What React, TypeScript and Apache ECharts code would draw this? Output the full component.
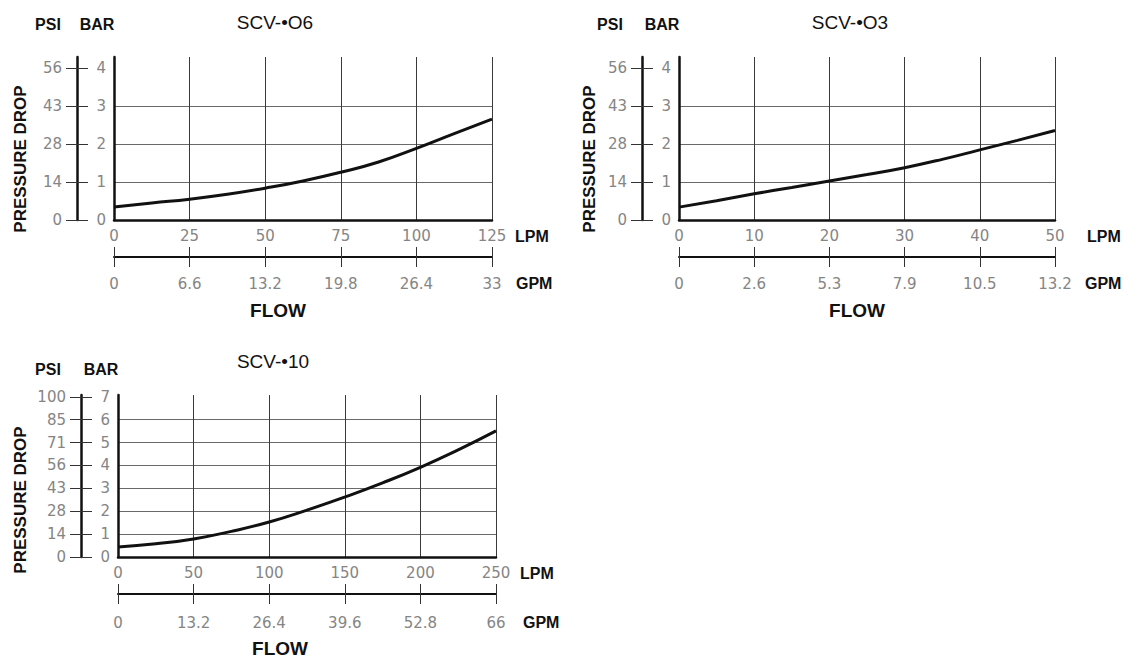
import React, { useEffect, useRef } from 'react';
import * as echarts from 'echarts';

// ---- Data ----
const chart1Title = 'SCV-•O6';
const chart1Lpm = [0, 12.5, 25, 37.5, 50, 62.5, 75, 87.5, 100, 112.5, 125];
const chart1Bar = [0.34, 0.45, 0.55, 0.68, 0.84, 1.03, 1.26, 1.53, 1.89, 2.28, 2.66];
const chart1LpmTicks = [0, 25, 50, 75, 100, 125];
const chart1GpmTicks = ['0', '6.6', '13.2', '19.8', '26.4', '33'];
const chart1BarTicks = [0, 1, 2, 3, 4];
const chart1PsiTicks = ['0', '14', '28', '43', '56'];

const chart2Title = 'SCV-•O3';
const chart2Lpm = [0, 5, 10, 15, 20, 25, 30, 35, 40, 45, 50];
const chart2Bar = [0.34, 0.51, 0.69, 0.86, 1.03, 1.2, 1.38, 1.6, 1.85, 2.1, 2.36];
const chart2LpmTicks = [0, 10, 20, 30, 40, 50];
const chart2GpmTicks = ['0', '2.6', '5.3', '7.9', '10.5', '13.2'];
const chart2BarTicks = [0, 1, 2, 3, 4];
const chart2PsiTicks = ['0', '14', '28', '43', '56'];

const chart3Title = 'SCV-•10';
const chart3Lpm = [0, 25, 50, 75, 100, 125, 150, 175, 200, 225, 250];
const chart3Bar = [0.44, 0.58, 0.79, 1.12, 1.53, 2.05, 2.62, 3.24, 3.92, 4.68, 5.51];
const chart3LpmTicks = [0, 50, 100, 150, 200, 250];
const chart3GpmTicks = ['0', '13.2', '26.4', '39.6', '52.8', '66'];
const chart3BarTicks = [0, 1, 2, 3, 4, 5, 6, 7];
const chart3PsiTicks = ['0', '14', '28', '43', '56', '71', '85', '100'];

const charts = [
  { title: chart1Title, lpm: chart1Lpm, bar: chart1Bar, lpmTicks: chart1LpmTicks, gpmTicks: chart1GpmTicks, barTicks: chart1BarTicks, psiTicks: chart1PsiTicks },
  { title: chart2Title, lpm: chart2Lpm, bar: chart2Bar, lpmTicks: chart2LpmTicks, gpmTicks: chart2GpmTicks, barTicks: chart2BarTicks, psiTicks: chart2PsiTicks },
  { title: chart3Title, lpm: chart3Lpm, bar: chart3Bar, lpmTicks: chart3LpmTicks, gpmTicks: chart3GpmTicks, barTicks: chart3BarTicks, psiTicks: chart3PsiTicks },
];

// ---- Layout ----
const layouts = [
  { left: 114, top: 57, right: 492, bottom: 220, yMax: 4.3, lpmGap: 23, gpmGap: 24, gpmMargin: 19, title: [275, 22], psi: [48, 24], barT: [97, 24], drop: [20, 159], flow: [278, 310] },
  { left: 679, top: 57, right: 1055, bottom: 220, yMax: 4.3, lpmGap: 32, gpmGap: 30, gpmMargin: 19, title: [850, 22], psi: [610, 24], barT: [662, 24], drop: [589, 159], flow: [857, 310] },
  { left: 118, top: 395, right: 496, bottom: 557, yMax: 7.08, lpmGap: 24, gpmGap: 27, gpmMargin: 21, title: [273, 361], psi: [48, 369], barT: [101, 369], drop: [20, 500], flow: [280, 648] },
];

const NUM_FONT = 'DejaVu Sans';
const TXT_FONT = 'Liberation Sans';
const NUM_COLOR = '#858585';

function buildOption() {
  const grid: any[] = [];
  const xAxis: any[] = [];
  const yAxis: any[] = [];
  const series: any[] = [];
  const graphic: any[] = [];

  charts.forEach((c, i) => {
    const L = layouts[i];
    grid.push({ left: L.left, top: L.top, width: L.right - L.left, height: L.bottom - L.top, outerBoundsMode: 'none', containLabel: false });
    const lpmMax = c.lpmTicks[c.lpmTicks.length - 1];
    const lpmStep = c.lpmTicks[1] - c.lpmTicks[0];
    const nameStyle = (pad: number) => ({ fontFamily: TXT_FONT, fontWeight: 'bold', fontSize: 16, color: '#111', verticalAlign: 'top', padding: [pad, 0, 0, 0] });

    // LPM axis
    xAxis.push({
      type: 'value', gridIndex: i, min: 0, max: lpmMax, interval: lpmStep, position: 'bottom',
      axisLine: { show: true, onZero: false, lineStyle: { color: '#111', width: 2.5 } },
      axisTick: { show: false },
      axisLabel: { color: NUM_COLOR, fontFamily: NUM_FONT, fontSize: 15, margin: 8 },
      splitLine: { show: true, lineStyle: { color: '#3a3a3a', width: 1 } },
      name: 'LPM', nameLocation: 'end', nameGap: L.lpmGap, nameTextStyle: nameStyle(8),
    });
    // GPM axis (line, outer ticks, labels)
    xAxis.push({
      type: 'value', gridIndex: i, min: 0, max: lpmMax, interval: lpmStep, position: 'bottom', offset: 37,
      axisLine: { show: true, onZero: false, lineStyle: { color: '#111', width: 2 } },
      axisTick: { show: true, inside: false, length: 10, lineStyle: { color: '#333', width: 1 } },
      axisLabel: {
        color: NUM_COLOR, fontFamily: NUM_FONT, fontSize: 15, margin: L.gpmMargin,
        formatter: (v: number) => c.gpmTicks[Math.round(v / lpmStep)] ?? '',
      },
      splitLine: { show: false },
      name: 'GPM', nameLocation: 'end', nameGap: L.gpmGap, nameTextStyle: nameStyle(L.gpmMargin - 1),
    });
    // GPM axis inner ticks
    xAxis.push({
      type: 'value', gridIndex: i, min: 0, max: lpmMax, interval: lpmStep, position: 'bottom', offset: 37,
      axisLine: { show: false, onZero: false },
      axisTick: { show: true, inside: true, length: 10, lineStyle: { color: '#333', width: 1 } },
      axisLabel: { show: false },
      splitLine: { show: false },
    });

    const barMax = c.barTicks[c.barTicks.length - 1];
    // BAR axis
    yAxis.push({
      type: 'value', gridIndex: i, min: 0, max: L.yMax, interval: 1, position: 'left',
      axisLine: { show: true, onZero: false, lineStyle: { color: '#111', width: 2.5 } },
      axisTick: { show: false, customValues: c.barTicks },
      axisLabel: {
        color: NUM_COLOR, fontFamily: NUM_FONT, fontSize: 15, margin: 8, customValues: c.barTicks,
        formatter: (v: number) => (Number.isInteger(v) && v <= barMax ? String(v) : ''),
      },
      splitLine: { show: true, showMaxLine: false, lineStyle: { color: '#6a6a6a', width: 1 } },
    });
    // PSI axis (line, outer ticks, labels)
    yAxis.push({
      type: 'value', gridIndex: i, min: 0, max: L.yMax, interval: 1, position: 'left', offset: 37,
      axisLine: { show: true, onZero: false, lineStyle: { color: '#111', width: 2.5 } },
      axisTick: { show: true, inside: false, length: 11, customValues: c.barTicks, lineStyle: { color: '#333', width: 1 } },
      axisLabel: {
        color: NUM_COLOR, fontFamily: NUM_FONT, fontSize: 15, margin: 15, customValues: c.barTicks,
        formatter: (v: number) => (Number.isInteger(v) ? c.psiTicks[v] ?? '' : ''),
      },
      splitLine: { show: false },
    });
    // PSI inner ticks
    yAxis.push({
      type: 'value', gridIndex: i, min: 0, max: L.yMax, interval: 1, position: 'left', offset: 37,
      axisLine: { show: false, onZero: false },
      axisTick: { show: true, inside: true, length: 11, customValues: c.barTicks, lineStyle: { color: '#333', width: 1 } },
      axisLabel: { show: false },
      splitLine: { show: false },
    });

    series.push({
      type: 'line', xAxisIndex: i * 3, yAxisIndex: i * 3, smooth: true, showSymbol: false, symbol: 'none',
      lineStyle: { color: '#111', width: 3 },
      data: c.lpm.map((x, k) => [x, c.bar[k]]),
      z: 5,
    });

    const txt = (text: string, pos: number[], fontSize: number, weight: string, rotation = 0) => ({
      type: 'text', x: pos[0], y: pos[1], rotation,
      style: { text, fontFamily: TXT_FONT, fontSize, fontWeight: weight, fill: '#111', align: 'center', verticalAlign: 'middle' },
    });
    graphic.push(txt(c.title, L.title, 19, 'normal'));
    graphic.push(txt('PSI', L.psi, 16, 'bold'));
    graphic.push(txt('BAR', L.barT, 16, 'bold'));
    graphic.push(txt('PRESSURE DROP', L.drop, 17, 'bold', Math.PI / 2));
    graphic.push(txt('FLOW', L.flow, 19, 'bold'));
  });

  return { animation: false, backgroundColor: '#fff', grid, xAxis, yAxis, series, graphic };
}

export default function App() {
  const ref = useRef<HTMLDivElement>(null);
  useEffect(() => {
    if (!ref.current) return;
    const chart = echarts.init(ref.current, undefined, { renderer: 'svg' });
    chart.setOption(buildOption() as any);
    return () => chart.dispose();
  }, []);
  return <div ref={ref} style={{ position: 'absolute', left: 0, top: 0, width: 1126, height: 658, background: '#fff' }} />;
}
